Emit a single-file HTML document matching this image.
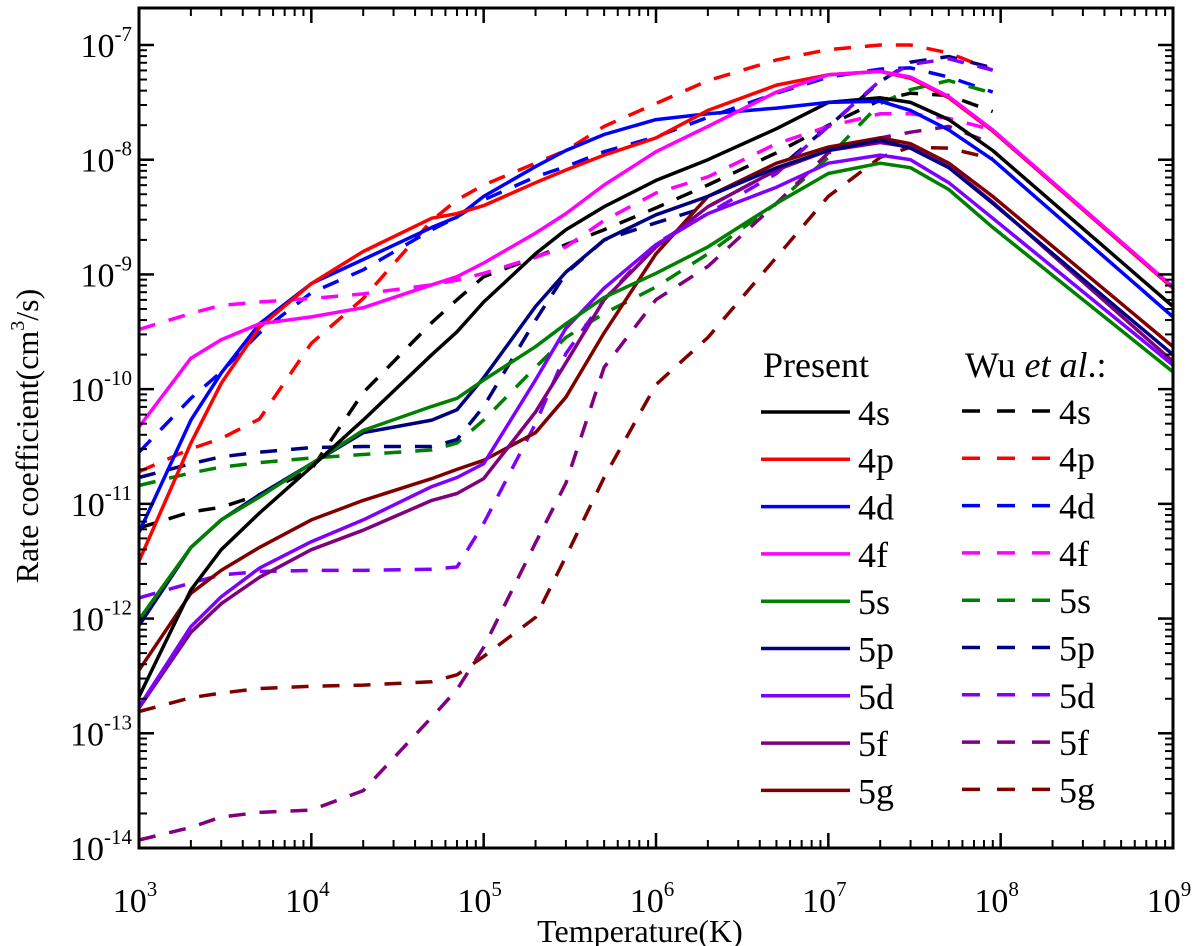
<!DOCTYPE html>
<html><head><meta charset="utf-8">
<style>
html,body{margin:0;padding:0;background:#fff;}
svg{display:block;font-family:"Liberation Serif",serif;}
</style></head>
<body>
<svg id="chart" width="1200" height="946" viewBox="0 0 1200 946" xmlns="http://www.w3.org/2000/svg">
<g id="marks"></g>
<g id="axes"></g>
<g id="legend"></g>
<text x="640" y="942" font-size="32" text-anchor="middle">Temperature(K)</text>
<text transform="translate(38,436) rotate(-90)" font-size="32" text-anchor="middle">Rate coefficient(cm<tspan dy="-14" font-size="20">3</tspan><tspan dy="14">/s)</tspan></text>
</svg>
<script>
const logT = [3,3.301,3.477,3.699,4,4.301,4.699,4.845,5,5.301,5.477,5.699,6,6.301,6.699,7,7.301,7.477,7.699,7.954,9];
const seriesNames = ["4s","4p","4d","4f","5s","5p","5d","5f","5g"];
const seriesColors = ["#000000","#ff0000","#0000ff","#ff00ff","#008000","#000080","#8000ff","#800080","#800000"];
const present4s = [-12.68,-11.75,-11.4,-11.08,-10.68,-10.27,-9.7,-9.5,-9.24,-8.82,-8.61,-8.41,-8.18,-8.0,-7.73,-7.5,-7.46,-7.5,-7.65,-7.92,-9.28];
const present4p = [-11.5,-10.47,-9.95,-9.46,-9.08,-8.8,-8.51,-8.47,-8.4,-8.2,-8.09,-7.96,-7.81,-7.57,-7.35,-7.26,-7.23,-7.29,-7.46,-7.75,-9.12];
const present4d = [-11.25,-10.27,-9.86,-9.43,-9.08,-8.87,-8.59,-8.5,-8.32,-8.06,-7.92,-7.78,-7.65,-7.6,-7.55,-7.5,-7.49,-7.57,-7.74,-8.0,-9.37];
const present4f = [-10.33,-9.73,-9.57,-9.43,-9.37,-9.29,-9.09,-9.02,-8.9,-8.64,-8.47,-8.22,-7.93,-7.71,-7.41,-7.26,-7.23,-7.28,-7.45,-7.74,-9.11];
const present5s = [-12.01,-11.38,-11.14,-10.94,-10.65,-10.36,-10.15,-10.08,-9.92,-9.63,-9.43,-9.2,-8.99,-8.76,-8.38,-8.12,-8.03,-8.07,-8.26,-8.59,-9.85];
const present5p = [-12.06,-11.38,-11.14,-10.92,-10.65,-10.38,-10.27,-10.18,-9.9,-9.28,-8.98,-8.7,-8.48,-8.32,-8.07,-7.92,-7.83,-7.9,-8.07,-8.38,-9.7];
const present5d = [-12.77,-12.07,-11.81,-11.56,-11.33,-11.14,-10.85,-10.77,-10.65,-9.92,-9.47,-9.12,-8.74,-8.47,-8.24,-8.03,-7.96,-8.0,-8.2,-8.51,-9.79];
const present5f = [-12.78,-12.12,-11.87,-11.64,-11.4,-11.23,-10.97,-10.91,-10.78,-10.2,-9.77,-9.22,-8.76,-8.41,-8.09,-7.92,-7.85,-7.89,-8.06,-8.37,-9.76];
const present5g = [-12.45,-11.78,-11.58,-11.38,-11.14,-10.97,-10.78,-10.7,-10.62,-10.38,-10.07,-9.51,-8.82,-8.32,-8.03,-7.89,-7.81,-7.86,-8.03,-8.32,-9.63];
const wu4s = [-11.21,-11.07,-11.03,-10.92,-10.7,-10.03,-9.42,-9.22,-9.02,-8.85,-8.74,-8.61,-8.42,-8.22,-7.94,-7.7,-7.48,-7.42,-7.44,-7.58,null];
const wu4p = [-10.72,-10.52,-10.43,-10.26,-9.6,-9.21,-8.53,-8.35,-8.22,-8.03,-7.92,-7.71,-7.51,-7.31,-7.13,-7.04,-7.0,-7.0,-7.07,-7.22,null];
const wu4d = [-10.55,-10.08,-9.85,-9.51,-9.16,-8.96,-8.61,-8.5,-8.35,-8.15,-8.06,-7.93,-7.8,-7.63,-7.42,-7.28,-7.21,-7.2,-7.28,-7.41,null];
const wu4f = [-9.48,-9.34,-9.27,-9.24,-9.21,-9.17,-9.09,-9.05,-8.99,-8.85,-8.76,-8.53,-8.29,-8.15,-7.86,-7.71,-7.6,-7.6,-7.64,-7.74,null];
const wu5s = [-10.84,-10.73,-10.68,-10.64,-10.6,-10.57,-10.53,-10.47,-10.27,-9.81,-9.55,-9.34,-9.11,-8.82,-8.38,-7.98,-7.51,-7.39,-7.31,-7.42,null];
const wu5p = [-10.77,-10.65,-10.59,-10.55,-10.51,-10.5,-10.5,-10.44,-10.15,-9.4,-8.99,-8.7,-8.55,-8.41,-8.09,-7.71,-7.32,-7.15,-7.1,-7.2,null];
const wu5d = [-11.82,-11.69,-11.62,-11.59,-11.58,-11.58,-11.57,-11.55,-11.17,-10.3,-9.69,-9.22,-8.73,-8.47,-8.12,-7.71,-7.31,-7.17,-7.12,-7.22,null];
const wu5f = [-13.93,-13.82,-13.73,-13.69,-13.67,-13.5,-12.86,-12.62,-12.25,-11.34,-10.82,-9.81,-9.22,-8.93,-8.38,-7.94,-7.81,-7.76,-7.71,-7.86,null];
const wu5g = [-12.81,-12.69,-12.65,-12.61,-12.59,-12.58,-12.55,-12.49,-12.33,-11.99,-11.46,-10.77,-9.96,-9.55,-8.85,-8.32,-7.98,-7.89,-7.9,-7.99,null];
const xTickExps = [3,4,5,6,7,8,9];
const yTickExps = [-7,-8,-9,-10,-11,-12,-13,-14];

const NS = "http://www.w3.org/2000/svg";
const L = 139, R = 1173, T = 8, B = 848;
function X(lt){ return L + (lt - 3) / 6 * (R - L); }
function Y(lk){ return 45 + (-7 - lk) * (B - 45) / 7; }
function mk(tag, attrs, parent){ const e = document.createElementNS(NS, tag); for (const k in attrs) e.setAttribute(k, attrs[k]); parent.appendChild(e); return e; }

const marks = document.getElementById('marks');
const presentData = [present4s,present4p,present4d,present4f,present5s,present5p,present5d,present5f,present5g];
const wuData = [wu4s,wu4p,wu4d,wu4f,wu5s,wu5p,wu5d,wu5f,wu5g];
function pathFor(vals){
  let d = "";
  vals.forEach((v,i)=>{ if (v === null) return; d += (d ? "L" : "M") + X(logT[i]).toFixed(1) + "," + Y(v).toFixed(1); });
  return d;
}
wuData.forEach((vals,i)=>{
  const p = mk('path', {d: pathFor(vals), fill:'none', stroke: seriesColors[i], 'stroke-width': 3.5, 'stroke-dasharray': '17 14'}, marks);
  
  
});
const order = [8,7,6,5,4,0,2,1,3];
order.forEach(i=>{
  const p = mk('path', {d: pathFor(presentData[i]), fill:'none', stroke: seriesColors[i], 'stroke-width': 3.5, 'stroke-linejoin':'round'}, marks);
  
  
});

const axes = document.getElementById('axes');
const frame = mk('rect', {x:L, y:T, width:R-L, height:B-T, fill:'none', stroke:'#000', 'stroke-width':3}, axes);


xTickExps.forEach((e,idx)=>{
  const x = X(e);
  mk('line', {x1:x, y1:B, x2:x, y2:B-15, stroke:'#000', 'stroke-width':2.5}, axes);
  mk('line', {x1:x, y1:T, x2:x, y2:T+15, stroke:'#000', 'stroke-width':2.5}, axes);
  if (idx < xTickExps.length - 1) {
    for (let m = 2; m <= 9; m++) {
      const xm = X(e + Math.log10(m));
      mk('line', {x1:xm, y1:B, x2:xm, y2:B-8, stroke:'#000', 'stroke-width':2}, axes);
      mk('line', {x1:xm, y1:T, x2:xm, y2:T+8, stroke:'#000', 'stroke-width':2}, axes);
    }
  }
  const t = mk('text', {x:x-4, y:912, 'font-size':34, 'text-anchor':'middle'}, axes);
  
  
  t.textContent = '10';
  const s = mk('tspan', {dy:-16, 'font-size':21}, t);
  s.textContent = String(e);
});
yTickExps.forEach((e,idx)=>{
  const y = Y(e);
  mk('line', {x1:L, y1:y, x2:L+15, y2:y, stroke:'#000', 'stroke-width':2.5}, axes);
  mk('line', {x1:R, y1:y, x2:R-15, y2:y, stroke:'#000', 'stroke-width':2.5}, axes);
  if (idx < yTickExps.length - 1) {
    for (let m = 2; m <= 9; m++) {
      const ym = Y(e - 1 + Math.log10(m));
      mk('line', {x1:L, y1:ym, x2:L+8, y2:ym, stroke:'#000', 'stroke-width':2}, axes);
      mk('line', {x1:R, y1:ym, x2:R-8, y2:ym, stroke:'#000', 'stroke-width':2}, axes);
    }
  }
  const t = mk('text', {x:132, y:y+12, 'font-size':34, 'text-anchor':'end'}, axes);
  
  
  t.textContent = '10';
  const s = mk('tspan', {dy:-16, 'font-size':21}, t);
  s.textContent = String(e);
});

const lg = document.getElementById('legend');
const h1 = mk('text', {x:763, y:377, 'font-size':36}, lg);


h1.textContent = 'Present';
const h2 = mk('text', {x:965, y:377, 'font-size':36}, lg);


h2.innerHTML = 'Wu <tspan font-style="italic">et al</tspan>.:';
seriesNames.forEach((n,i)=>{
  const y = 412 + i * 47.3;
  const l1 = mk('line', {x1:761, y1:y, x2:850, y2:y, stroke:seriesColors[i], 'stroke-width':3.5}, lg);
  
  
  const t1 = mk('text', {x:858, y:y+13, 'font-size':36}, lg);
  
  
  t1.textContent = n;
  const l2 = mk('line', {x1:962, y1:y-1, x2:1050, y2:y-1, stroke:seriesColors[i], 'stroke-width':3.5, 'stroke-dasharray':'18 17'}, lg);
  
  
  const t2 = mk('text', {x:1059, y:y+12, 'font-size':36}, lg);
  
  
  t2.textContent = n;
});
</script>
</body></html>
